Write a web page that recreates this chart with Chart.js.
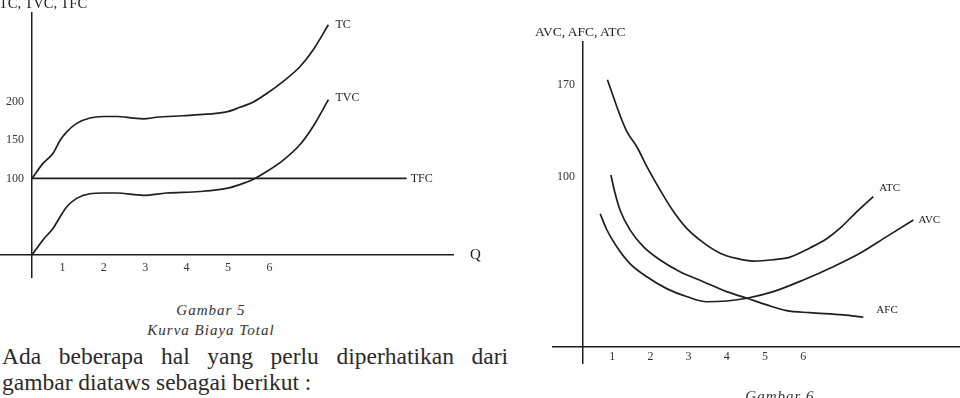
<!DOCTYPE html>
<html>
<head>
<meta charset="utf-8">
<script src="https://cdn.jsdelivr.net/npm/chart.js@4.4.1/dist/chart.umd.min.js"></script>
<style>
  html, body { margin: 0; padding: 0; background: #fff; }
  body { width: 960px; height: 398px; position: relative; overflow: hidden; font-family: "Liberation Serif", serif; color: #2a2a2a; }
  .abs { position: absolute; white-space: nowrap; }
  #c5 { position: absolute; left: 0; top: 0; }
  #c6 { position: absolute; left: 520px; top: 0; }
  .ttl { line-height: 14px; color: #222; }
  .cap { font-size: 15px; line-height: 20px; font-style: italic; letter-spacing: 1px; text-align: center; color: #333; }
  #para { position: absolute; left: 2px; top: 343px; width: 506px; font-size: 23.5px; line-height: 26px; text-align: justify; color: #2a2a2a; }
</style>
</head>
<body>
<canvas id="c5" width="500" height="290"></canvas>
<canvas id="c6" width="440" height="398"></canvas>

<div class="abs ttl" style="left:-1px; top:-4px; font-size:14.5px;">TC, TVC, TFC</div>
<div class="abs ttl" style="left:535px; top:25px; font-size:13.5px;">AVC, AFC, ATC</div>
<div class="abs cap" style="left:111px; top:300px; width:200px;">Gambar 5<br>Kurva Biaya Total</div>
<div class="abs cap" style="left:680px; top:386px; width:200px;">Gambar 6</div>
<div id="para">Ada beberapa hal yang perlu diperhatikan dari gambar diataws sebagai berikut :</div>

<script>
// ---- Gambar 5 : Kurva Biaya Total ----
const qTC  = [0, 0.27, 0.51, 0.68, 0.84, 1.08, 1.40, 1.72, 2.05, 2.45, 2.69, 3.01, 3.65, 4.22, 4.70, 5.02, 5.35, 5.67, 6.07, 6.47, 6.79, 7.16];
const TC   = [100, 120, 133, 150, 161, 172, 179, 181, 181, 179, 178, 180, 182, 184, 187, 193, 200, 211, 227, 246, 268, 301];
const qTVC = [0, 0.27, 0.51, 0.68, 0.84, 1.08, 1.40, 1.72, 2.05, 2.69, 3.25, 4.06, 4.70, 5.02, 5.35, 5.67, 6.07, 6.47, 6.79, 7.16];
const TVC  = [0, 20, 35, 50, 63, 74, 80, 81, 81, 78, 81, 83, 87, 92, 99, 109, 124, 144, 168, 203];
const qTFC = [0, 9.05];
const TFC  = [100, 100];
const xTicks5 = [1, 2, 3, 4, 5, 6];
const yTicks5 = [100, 150, 200];

// ---- Gambar 6 : Kurva Biaya Rata-rata ----
const qATC = [0.64, 0.88, 1.14, 1.41, 1.67, 2.02, 2.36, 2.71, 3.15, 3.59, 4.02, 4.46, 4.98, 5.42, 5.94, 6.38, 6.73, 7.08, 7.60];
const ATC  = [174, 154, 135, 123, 108, 90, 74, 61, 50, 42, 38, 36, 37, 39, 46, 53, 61, 71, 85];
const qAVC = [0.45, 0.62, 0.88, 1.23, 1.67, 2.19, 2.71, 3.24, 3.76, 4.29, 4.98, 5.77, 6.55, 7.25, 7.95, 8.65];
const AVC  = [72, 60, 47, 34, 24, 15, 9, 5, 5.6, 7.7, 12.7, 21.6, 31.7, 41.9, 54.6, 67.3];
const qAFC = [0.73, 0.84, 0.97, 1.23, 1.58, 2.02, 2.54, 3.15, 3.76, 4.29, 4.81, 5.33, 5.94, 6.81, 7.34];
const AFC  = [101.5, 87.6, 74.9, 59.7, 47.0, 36.8, 27.9, 20.3, 12.7, 7.7, 2.6, -1.7, -3.3, -5.0, -6.8];
const xTicks6 = [1, 2, 3, 4, 5, 6];
const yTicks6 = [100, 170];

const INK = '#1e1e1e';
const FONT = 'Liberation Serif';

function pts(xs, ys) { return xs.map((x, i) => ({ x: x, y: ys[i] })); }

function ds(label, xs, ys, dx, dy) {
  return {
    label: label, data: pts(xs, ys),
    borderColor: INK, borderWidth: 1.7, pointRadius: 0, fill: false,
    cubicInterpolationMode: 'monotone',
    tagDx: dx, tagDy: dy
  };
}

const curveLabels = {
  id: 'curveLabels',
  afterDatasetsDraw(chart, args, opts) {
    const ctx = chart.ctx;
    ctx.save();
    ctx.fillStyle = '#222';
    ctx.textAlign = 'left';
    ctx.textBaseline = 'middle';
    ctx.font = opts.size + 'px "' + FONT + '"';
    chart.data.datasets.forEach((d, i) => {
      const meta = chart.getDatasetMeta(i);
      const p = meta.data[meta.data.length - 1];
      ctx.fillText(d.label, p.x + d.tagDx, p.y + d.tagDy);
    });
    // y-axis tick labels, placed left of the crossing axis line
    const ys = chart.scales.y;
    const x0 = chart.scales.x.getPixelForValue(0);
    ctx.fillStyle = '#333';
    ctx.textAlign = 'right';
    ctx.font = '12px "' + FONT + '"';
    ys.ticks.forEach(t => {
      ctx.fillText(String(t.value), x0 - 8, ys.getPixelForValue(t.value));
    });
    if (opts.axisLabel) {
      const y0 = ys.getPixelForValue(opts.axisAt);
      ctx.fillStyle = '#222';
      ctx.textAlign = 'left';
      ctx.font = '15px "' + FONT + '"';
      ctx.fillText(opts.axisLabel, chart.chartArea.right + 17, y0);
    }
    ctx.restore();
  }
};

function scales(cfg) {
  return {
    x: {
      type: 'linear', min: cfg.xmin, max: cfg.xmax,
      position: { y: cfg.xAxisAt },
      grid: { display: false, drawTicks: false },
      border: { display: true, color: INK, width: 1.5 },
      afterBuildTicks: s => { s.ticks = cfg.xt.map(v => ({ value: v })); },
      ticks: { padding: cfg.xpad, labelOffset: cfg.labelOffset, autoSkip: false, maxRotation: 0,
               color: '#333', font: { family: FONT, size: 12 } }
    },
    y: {
      type: 'linear', min: cfg.ymin, max: cfg.ymax,
      position: { x: 0 },
      grid: { display: false, drawTicks: false },
      border: { display: true, color: INK, width: 1.5 },
      afterBuildTicks: s => { s.ticks = cfg.yt.map(v => ({ value: v })); },
      ticks: { display: false }
    }
  };
}

new Chart(document.getElementById('c5'), {
  type: 'line',
  data: { datasets: [
    ds('TC', qTC, TC, 7, 0),
    ds('TVC', qTVC, TVC, 7, -2),
    ds('TFC', qTFC, TFC, 4, 0)
  ] },
  options: {
    responsive: false, animation: false, events: [],
    layout: { padding: { left: 0, top: 13, right: 47, bottom: 13 } },
    plugins: { legend: { display: false }, tooltip: { enabled: false },
               curveLabels: { size: 12, axisLabel: 'Q', axisAt: 0 } },
    scales: scales({ xmin: -0.773, xmax: 10.17, ymin: -28.8, ymax: 316.3, xAxisAt: 0,
                     xt: xTicks5, yt: yTicks5, labelOffset: -11, xpad: 6 })
  },
  plugins: [curveLabels]
});

new Chart(document.getElementById('c6'), {
  type: 'line',
  data: { datasets: [
    ds('ATC', qATC, ATC, 6, -9),
    ds('AVC', qAVC, AVC, 5, 0),
    ds('AFC', qAFC, AFC, 13, -7)
  ] },
  options: {
    responsive: false, animation: false, events: [],
    layout: { padding: { left: 33, top: 42, right: 0, bottom: 35 } },
    plugins: { legend: { display: false }, tooltip: { enabled: false },
               curveLabels: { size: 11 } },
    scales: scales({ xmin: -0.785, xmax: 9.87, ymin: -41.6, ymax: 202.7, xAxisAt: -29.4,
                     xt: xTicks6, yt: yTicks6, labelOffset: -9, xpad: 3 })
  },
  plugins: [curveLabels]
});
</script>
</body>
</html>
